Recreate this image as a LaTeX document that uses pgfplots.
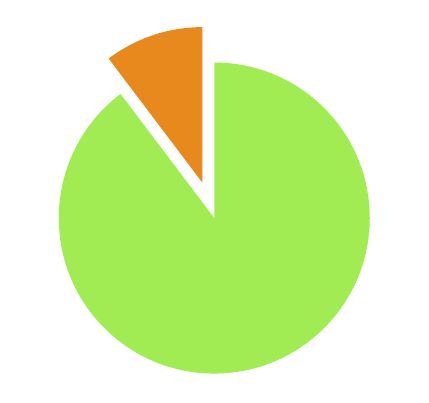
\documentclass[border=0pt]{standalone}
\usepackage{pgfplots}
\usepackage{pgfplotstable}
\pgfplotsset{compat=1.18}
\definecolor{pieorange}{RGB}{232,137,30}
\definecolor{piegreen}{RGB}{160,236,82}

\pgfplotstableread{
label value
A 10.3
B 89.7
}\piedata

\pgfplotstablegetelem{0}{value}\of\piedata
\let\va\pgfplotsretval
\pgfmathsetmacro{\aend}{90+3.6*\va}
\pgfmathsetmacro{\amid}{90+1.8*\va}
\pgfmathsetmacro{\ox}{0.24*cos(\amid)}
\pgfmathsetmacro{\oy}{0.24*sin(\amid)}

\begin{document}
\begin{tikzpicture}
\begin{axis}[
    scale only axis,
    width=321.75pt, height=301.5pt,
    hide axis,
    xmin=-1.378, xmax=1.381,
    ymin=-1.183, ymax=1.402,
]
% keep the full canvas
\path (rel axis cs:0,0) rectangle (rel axis cs:1,1);
% green slice
\fill[piegreen] (axis cs:0,0) -- (axis cs:0,1)
    arc[start angle=90, end angle=\aend-360, radius=1] -- cycle;
% orange slice, pulled out
\fill[pieorange] (axis cs:\ox,\oy) -- ++(axis direction cs:0,1)
    arc[start angle=90, end angle=\aend, radius=1] -- cycle;
\end{axis}
\end{tikzpicture}
\end{document}
